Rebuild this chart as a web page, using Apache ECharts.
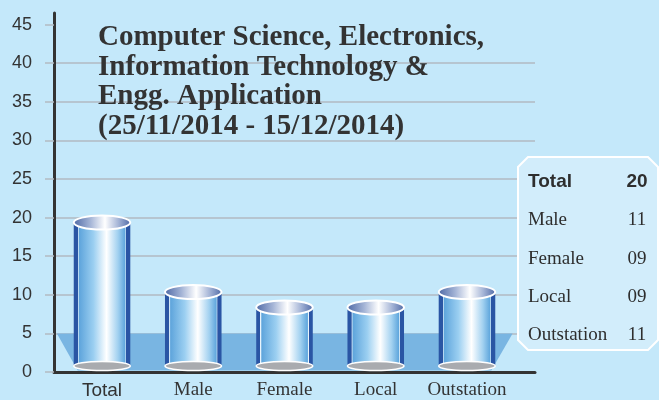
<!DOCTYPE html>
<html>
<head>
<meta charset="utf-8">
<script src="https://cdn.jsdelivr.net/npm/echarts@6/dist/echarts.min.js"></script>
<style>
html,body{margin:0;padding:0;background:#c4e8fa;}
#chart{width:659px;height:400px;}
</style>
</head>
<body>
<div id="chart"></div>
<script>
// ---- data ----
const categories = ['Total', 'Male', 'Female', 'Local', 'Outstation'];
const values = [20, 11, 9, 9, 11];
const yTicks = [0, 5, 10, 15, 20, 25, 30, 35, 40, 45];
const titleLines = [
  'Computer Science, Electronics,',
  'Information Technology &',
  'Engg. Application',
  '(25/11/2014 - 15/12/2014)'
];
const floorLevel = 5;

const chart = echarts.init(document.getElementById('chart'), null, {renderer: 'canvas'});

const G = echarts.graphic;
const bodyGrad = () => new G.LinearGradient(0, 0, 1, 0, [
  {offset: 0, color: '#2a55a4'}, {offset: 0.07, color: '#2a55a4'},
  {offset: 0.075, color: '#eef7fd'}, {offset: 0.1, color: '#5fa5dc'},
  {offset: 0.35, color: '#9bcff1'}, {offset: 0.58, color: '#ffffff'},
  {offset: 0.78, color: '#a2d1f0'}, {offset: 0.905, color: '#60a7dd'},
  {offset: 0.925, color: '#eef7fd'}, {offset: 0.93, color: '#2a55a4'},
  {offset: 1, color: '#2a55a4'}
]);
const topGrad = () => new G.LinearGradient(0, 0, 1, 0, [
  {offset: 0, color: '#4c67a4'}, {offset: 0.3, color: '#a4b4d6'},
  {offset: 0.55, color: '#ffffff'}, {offset: 0.78, color: '#a4b4d6'},
  {offset: 1, color: '#4c67a4'}
]);

function renderCylinder(params, api) {
  const idx = api.value(0);
  const top = api.coord([idx, api.value(1)]);
  const base = api.coord([idx, 0]);
  const band = api.size([1, 0])[0];
  const rx = band * 0.31;
  const topY = top[1] + 5;
  const botY = base[1] - 6;
  return {
    type: 'group',
    children: [
      {type: 'rect', shape: {x: top[0] - rx, y: topY, width: rx * 2, height: botY - topY},
       style: {fill: bodyGrad()}},
      {type: 'ellipse', shape: {cx: top[0], cy: botY, rx: rx, ry: 4.5},
       style: {fill: '#a9abaf', stroke: '#ffffff', lineWidth: 1.5}},
      {type: 'ellipse', shape: {cx: top[0], cy: topY, rx: rx, ry: 7},
       style: {fill: topGrad(), stroke: '#ffffff', lineWidth: 2}}
    ]
  };
}

function renderFloor(params, api) {
  const n = categories.length;
  const band = api.size([1, 0])[0];
  const rx = band * 0.31;
  const first = api.coord([0, 0]);
  const last = api.coord([n - 1, 0]);
  const topY = api.coord([0, api.value(1)])[1];
  const y0 = first[1] - 1.5;
  return {
    type: 'polygon',
    shape: {points: [
      [first[0] - band * 0.5 + 0.5, topY], [last[0] + band * 0.5, topY],
      [last[0] + rx - 4, y0], [first[0] - rx + 4, y0]
    ]},
    style: {fill: '#79b5e2'}
  };
}

// table graphics
const tableChildren = [{
  type: 'polygon', z: 100,
  shape: {points: [[10,0],[130,0],[140,10],[140,183],[130,193],[10,193],[0,183],[0,10]]},
  style: {fill: '#d2edfb', stroke: '#ffffff', lineWidth: 2}
}];
const rowStep = 38.3;
categories.forEach((c, i) => {
  const bold = i === 0;
  const font = bold ? 'bold 19px "Liberation Sans", Arial, sans-serif'
                    : '19px "Liberation Serif", "Times New Roman", serif';
  const y = 25 + i * rowStep;
  tableChildren.push({type: 'text', x: 10, y: y, z: 101,
    style: {text: c, font: font, fill: '#2e2e2e', align: 'left', verticalAlign: 'middle'}});
  tableChildren.push({type: 'text', x: 119, y: y, z: 101,
    style: {text: String(values[i]).padStart(2, '0'), font: font, fill: '#2e2e2e', align: 'center', verticalAlign: 'middle'}});
});

const option = {
  backgroundColor: '#c4e8fa',
  animation: false,
  title: {
    text: titleLines.join('\n'),
    left: 98, top: 23, padding: 0,
    textStyle: {fontFamily: '"Liberation Serif", "Times New Roman", serif', fontWeight: 'bold',
      fontSize: 29, lineHeight: 29.5, color: '#333333'}
  },
  grid: [
    {left: 54, right: 124, top: 13, bottom: 28},
    {left: 56.4, right: 146.4, top: 13, bottom: 28}
  ],
  xAxis: [
    {gridIndex: 0, type: 'value', min: 0, max: 1,
     axisLine: {show: true, lineStyle: {color: '#333333', width: 3}},
     axisTick: {show: false}, axisLabel: {show: false}, splitLine: {show: false}},
    {gridIndex: 1, type: 'category', data: categories,
     axisLine: {show: false}, axisTick: {show: false},
     axisLabel: {
       interval: 0, hideOverlap: false,
       margin: 9,
       formatter: (v) => v === 'Total' ? '{a|' + v + '}' : '{b|' + v + '}',
       rich: {
         a: {fontFamily: '"Liberation Sans", Arial, sans-serif', fontSize: 19, color: '#333333'},
         b: {fontFamily: '"Liberation Serif", "Times New Roman", serif', fontSize: 19, color: '#333333'}
       }
     }}
  ],
  yAxis: [
    {gridIndex: 0, type: 'value', min: 0, max: 46.5, interval: 5,
     axisLine: {show: true, lineStyle: {color: '#333333', width: 3}},
     axisTick: {show: true, length: 9, customValues: yTicks, lineStyle: {color: '#b2bac2', width: 1.5}},
     axisLabel: {customValues: yTicks, margin: 22, fontFamily: '"Liberation Sans", Arial, sans-serif',
       fontSize: 18, color: '#333333'},
     splitLine: {show: true, showMaxLine: false, lineStyle: {color: '#b2bac2', width: 1.5}}},
    {gridIndex: 1, type: 'value', min: 0, max: 46.5, show: false}
  ],
  graphic: {elements: [{type: 'group', left: 517, top: 156, z: 100, children: tableChildren}]},
  series: [
    {type: 'custom', xAxisIndex: 1, yAxisIndex: 1, renderItem: renderFloor,
     data: [[0, floorLevel]], z: 1, silent: true},
    {type: 'custom', xAxisIndex: 1, yAxisIndex: 1, renderItem: renderCylinder,
     data: values.map((v, i) => [i, v]), z: 3}
  ]
};
chart.setOption(option);
</script>
</body>
</html>
